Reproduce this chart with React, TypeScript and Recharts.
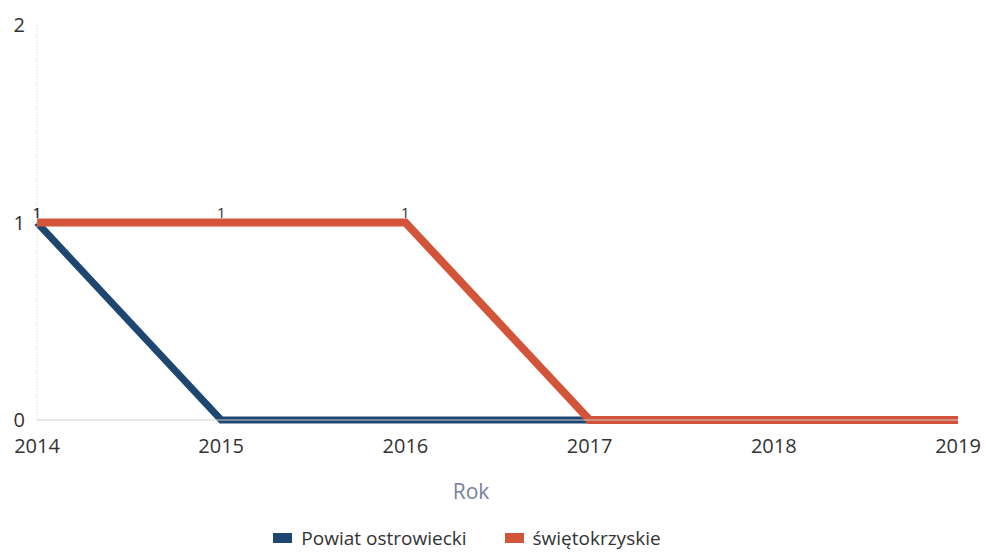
import { LineChart, Line, XAxis, YAxis, Legend, LabelList } from "recharts";

// lata i wartości
const years = ["2014", "2015", "2016", "2017", "2018", "2019"];
const powiat = [1, 0, 0, 0, 0, 0];
const wojewodztwo = [1, 1, 1, 0, 0, 0];
const yTicks = [0, 1, 2];

const BLUE = "#1d4670";
const RED = "#d2553a";
const FONT = "'Open Sans', sans-serif";

const data = years.map((y, i) => ({ year: y, powiat: powiat[i], woj: wojewodztwo[i] }));

const series = [
  { key: "powiat", name: "Powiat ostrowiecki", color: BLUE, width: 7 },
  { key: "woj", name: "świętokrzyskie", color: RED, width: 8 },
];

const ValueLabel = (props: any) => {
  const { x, y, value } = props;
  if (!value) return null;
  return (
    <text x={x} y={y - 5} textAnchor="middle" fontSize={15} fill="#333" fontFamily={FONT}>
      {value}
    </text>
  );
};

const RokLabel = () => (
  <text x={471} y={499} textAnchor="middle" fontSize={21} fill="#7a7f9e" fontFamily={FONT}>
    Rok
  </text>
);

const LegendBox = () => (
  <div style={{ display: "flex", justifyContent: "center", gap: 38, fontFamily: FONT, fontSize: 19, color: "#333", paddingRight: 24, paddingTop: 11 }}>
    {series.map(s => (
      <div key={s.key} style={{ display: "flex", alignItems: "center" }}>
        <span style={{ display: "inline-block", width: 19, height: 10, background: s.color, marginRight: 9 }} />
        {s.name}
      </div>
    ))}
  </div>
);

export default function App() {
  return (
    <div style={{ position: "absolute", left: 0, top: 0, width: 986, height: 552, background: "#fff" }}>
      <LineChart width={986} height={552} data={data} margin={{ top: 25, right: 28, left: 0, bottom: 0 }}>
        <XAxis
          dataKey="year"
          height={94}
          tickLine={false}
          axisLine={{ stroke: "#cfcfcf" }}
          tick={{ fontSize: 20, fill: "#333", fontFamily: FONT }}
          tickMargin={13}
          interval={0}
          label={<RokLabel />}
        />
        <YAxis
          width={37}
          domain={[0, 2]}
          ticks={yTicks}
          tickLine={false}
          axisLine={{ stroke: "#c8c8c8", strokeDasharray: "1 2" }}
          tick={{ fontSize: 20, fill: "#333", fontFamily: FONT }}
          tickMargin={6}
        />
        <Legend verticalAlign="bottom" height={38} content={<LegendBox />} />
        {series.map(s => (
          <Line
            key={s.key}
            type="linear"
            dataKey={s.key}
            name={s.name}
            stroke={s.color}
            strokeWidth={s.width}
            dot={false}
            activeDot={false}
            isAnimationActive={false}
          >
            <LabelList dataKey={s.key} content={<ValueLabel />} />
          </Line>
        ))}
      </LineChart>
    </div>
  );
}
